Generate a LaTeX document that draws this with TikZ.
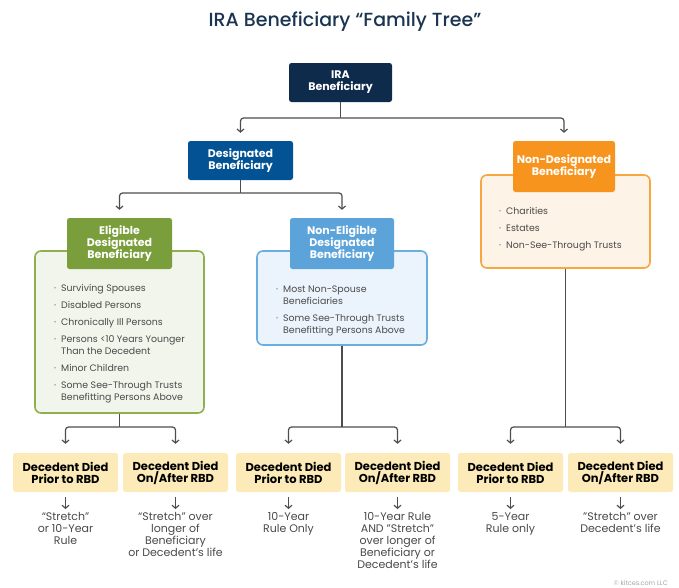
\documentclass[tikz,border=0pt]{standalone}
\usepackage{fontspec}
\setmainfont{Poppins}
\newfontfamily\titlefont{Poppins Medium}
\usetikzlibrary{arrows.meta}
\definecolor{navy}{HTML}{0F2B4C}
\definecolor{desblue}{HTML}{035394}
\definecolor{ndorange}{HTML}{F7941D}
\definecolor{ndfill}{HTML}{FDF3E7}
\definecolor{ndline}{HTML}{F8A640}
\definecolor{elgreen}{HTML}{7A9E3B}
\definecolor{elfill}{HTML}{F2F5EC}
\definecolor{elline}{HTML}{8DB04E}
\definecolor{neblue}{HTML}{5BA3D9}
\definecolor{nefill}{HTML}{EBF4FC}
\definecolor{neline}{HTML}{6AAEDF}
\definecolor{rbdfill}{HTML}{FCEBB8}
\definecolor{conn}{HTML}{4D4D4D}
\definecolor{txtgray}{HTML}{4A4A4A}
\definecolor{titlecol}{HTML}{1B3452}
\begin{document}
\begin{tikzpicture}[x=1pt,y=-1pt,
  head/.style={rounded corners=2.5pt, inner sep=0pt, align=center, text=white,
    font=\fontsize{11}{12}\selectfont\bfseries},
  content/.style={rounded corners=6pt, line width=1.6pt, inner sep=0pt},
  listtext/.style={inner sep=0pt, anchor=north west, text=txtgray,
    font=\fontsize{9.4}{12}\selectfont},
  rbd/.style={fill=rbdfill, rounded corners=2.5pt, minimum width=105pt, minimum height=39pt,
    inner sep=0pt, align=center, text=black, font=\fontsize{11.5}{12}\selectfont\bfseries},
  result/.style={inner sep=0pt, anchor=north, align=center, text=txtgray,
    font=\fontsize{11}{12}\selectfont},
  link/.style={draw=conn, line width=1.2pt},
  arr/.style={draw=conn, line width=1.2pt, rounded corners=3pt,
    -{Straight Barb[length=3pt,width=7pt,line width=1.2pt]}}
]
\useasboundingbox[fill=white] (0,0) rectangle (679,587);

\node[text=titlecol, font=\titlefont\fontsize{19}{22}\selectfont] (title) at (345,22) {IRA Beneficiary “Family Tree”};

% top level
\node[head, fill=navy, minimum width=103pt, minimum height=39pt] (ira) at (340.5,82.5) {IRA\\Beneficiary};
\node[head, fill=desblue, minimum width=105pt, minimum height=39pt] (des) at (240.5,160.5) {Designated\\Beneficiary};

% non-designated
\node[content, draw=ndline, fill=ndfill, minimum width=169pt, minimum height=93pt] (ndc) at (565.5,221.5) {};
\node[head, fill=ndorange, minimum width=102pt, minimum height=51pt] (ndh) at (564,166.5) {Non-Designated\\Beneficiary};
\node[listtext] (ndl) at (499,206) {\begin{tabular}{@{}l@{\hspace{5pt}}l@{}}
·&Charities\\[5pt]
·&Estates\\[5pt]
·&Non-See-Through Trusts
\end{tabular}};

% eligible
\node[content, draw=elline, fill=elfill, minimum width=169pt, minimum height=162pt] (elc) at (119.5,332) {};
\node[head, fill=elgreen, minimum width=105pt, minimum height=51pt] (elh) at (119.5,243.5) {Eligible\\Designated\\Beneficiary};
\node[listtext] (ell) at (54,283) {\begin{tabular}{@{}l@{\hspace{5pt}}l@{}}
·&Surviving Spouses\\[5pt]
·&Disabled Persons\\[5pt]
·&Chronically Ill Persons\\[5pt]
·&Persons <10 Years Younger\\
&Than the Decedent\\[5pt]
·&Minor Children\\[5pt]
·&Some See-Through Trusts\\
&Benefitting Persons Above
\end{tabular}};

% non-eligible
\node[content, draw=neline, fill=nefill, minimum width=170pt, minimum height=94pt] (nec) at (342,298) {};
\node[head, fill=neblue, minimum width=104pt, minimum height=51pt] (neh) at (342,243.5) {Non-Eligible\\Designated\\Beneficiary};
\node[listtext] (nel) at (276,284) {\begin{tabular}{@{}l@{\hspace{5pt}}l@{}}
·&Most Non-Spouse\\
&Beneficiaries\\[5pt]
·&Some See-Through Trusts\\
&Benefitting Persons Above
\end{tabular}};

% RBD boxes
\node[rbd] (b1) at (65.5,472.5) {Decedent Died\\Prior to RBD};
\node[rbd] (b2) at (175.5,472.5) {Decedent Died\\On/After RBD};
\node[rbd] (b3) at (288.5,472.5) {Decedent Died\\Prior to RBD};
\node[rbd] (b4) at (397.5,472.5) {Decedent Died\\On/After RBD};
\node[rbd] (b5) at (510.5,472.5) {Decedent Died\\Prior to RBD};
\node[rbd] (b6) at (620.5,472.5) {Decedent Died\\On/After RBD};

% results
\node[result] (r1) at (65.5,512) {“Stretch”\\or 10-Year\\Rule};
\node[result] (r2) at (175.5,512) {“Stretch” over\\longer of\\Beneficiary\\or Decedent’s life};
\node[result] (r3) at (288.5,512) {10-Year\\Rule Only};
\node[result] (r4) at (397.5,512) {10-Year Rule\\AND "Stretch"\\over longer of\\Beneficiary or\\Decedent’s life};
\node[result] (r5) at (510.5,512) {5-Year\\Rule only};
\node[result] (r6) at (620.5,512) {"Stretch" over\\Decedent’s life};

\node[anchor=south east, inner sep=0pt, text=gray!70, font=\fontsize{6.5}{7}\selectfont] (foot) at (668,586) {© kitces.com LLC};

% connectors
\coordinate (j1) at (340.5,118);
\draw[link] (ira.south) -- (j1);
\draw[arr] (j1) -| ([yshift=8pt]des.north);
\draw[arr] (j1) -| ([yshift=8pt]ndh.north);

\coordinate (j2) at (240.5,193);
\draw[link] (des.south) -- (j2);
\draw[arr] (j2) -| ([yshift=8pt]elh.north);
\draw[arr] (j2) -| ([yshift=8pt]neh.north);

\coordinate (j3) at (119.5,427);
\draw[link] (elc.south) -- (j3);
\draw[arr] (j3) -| ([yshift=9pt]b1.north);
\draw[arr] (j3) -| ([yshift=9pt]b2.north);

\coordinate (j4) at (342,427);
\draw[link] (nec.south) -- (j4);
\draw[arr] (j4) -| ([yshift=9pt]b3.north);
\draw[arr] (j4) -| ([yshift=9pt]b4.north);

\coordinate (j5) at (565.5,427);
\draw[link] (ndc.south) -- (j5);
\draw[arr] (j5) -| ([yshift=9pt]b5.north);
\draw[arr] (j5) -| ([yshift=9pt]b6.north);

\foreach \i in {1,...,6}{
  \draw[arr] ([yshift=-5pt]b\i.south) -- ([yshift=3pt]r\i.north);
}
\end{tikzpicture}
\end{document}
